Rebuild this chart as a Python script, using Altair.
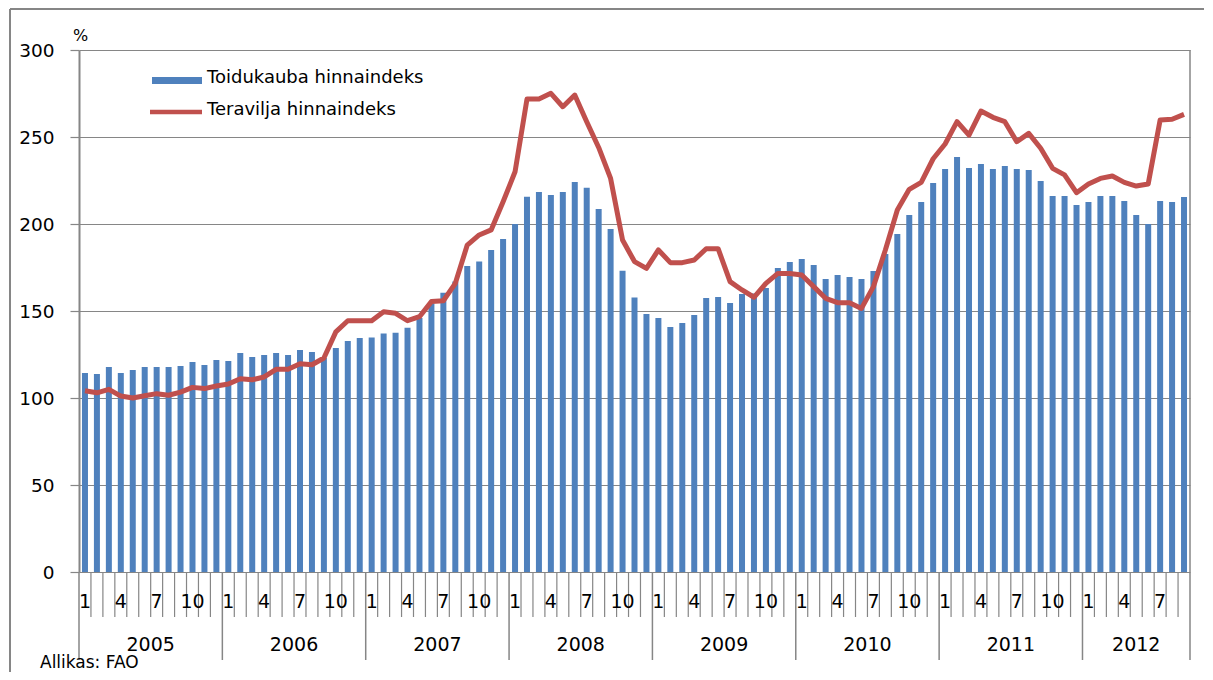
import altair as alt
import pandas as pd

# ---- data ----
aastad = ["2005", "2006", "2007", "2008", "2009", "2010", "2011", "2012"]
kuude_arv = [12, 12, 12, 12, 12, 12, 12, 9]
kuu_sildid = [1, 4, 7, 10]

toidukauba = [
    114.4, 113.8, 117.8, 114.4, 116.1, 117.8, 117.8, 117.8, 118.4, 120.7, 119.0, 121.8,
    121.3, 125.9, 123.6, 124.7, 125.9, 124.7, 127.6, 126.4, 123.0, 128.7, 132.8, 134.5,
    134.7, 137.0, 137.5, 140.4, 146.0, 154.4, 160.5, 166.9, 175.9, 178.4, 185.1, 191.4,
    200.0, 215.7, 218.4, 216.7, 218.4, 224.1, 220.9, 208.6, 197.1, 173.2, 157.7, 148.3,
    146.0, 140.8, 143.1, 147.7, 157.5, 158.0, 154.6, 159.8, 160.0, 163.2, 174.7, 178.2,
    179.9, 176.4, 168.4, 170.7, 169.5, 168.4, 173.0, 182.8, 194.3, 205.2, 212.6, 223.6,
    231.6, 238.5, 232.2, 234.5, 231.6, 233.3, 231.6, 231.0, 224.7, 216.1, 216.1, 210.9,
    212.6, 216.1, 216.1, 213.2, 205.2, 200.0, 213.2, 212.6, 215.5,
]

teravilja = [
    104.2, 103.0, 105.0, 101.1, 100.0, 101.3, 102.5, 101.6, 103.4, 106.1, 105.4, 106.9,
    108.0, 111.1, 110.5, 112.1, 116.5, 116.5, 119.7, 119.1, 123.0, 138.0, 144.4, 144.4,
    144.4, 149.6, 148.7, 144.4, 146.7, 155.4, 155.9, 165.9, 187.9, 193.7, 196.6, 212.8,
    230.0, 271.8, 271.8, 275.1, 267.4, 274.1, 258.8, 244.0, 226.2, 190.8, 178.4, 174.5,
    185.1, 177.8, 177.8, 179.3, 185.8, 185.8, 166.9, 162.1, 157.9, 165.9, 171.6, 171.6,
    170.7, 164.0, 157.3, 154.8, 154.8, 151.5, 164.0, 185.1, 208.0, 219.9, 223.9, 237.5,
    246.0, 258.8, 251.1, 264.9, 261.3, 258.8, 247.3, 252.1, 243.5, 232.0, 228.2, 218.0,
    223.0, 226.2, 227.6, 223.9, 221.8, 223.0, 259.8, 260.2, 263.0,
]

seeria_nimed = ["Toidukauba hinnaindeks", "Teravilja hinnaindeks"]
y_vaartused = [0, 50, 100, 150, 200, 250, 300]
allikas = "Allikas: FAO"
yhik = "%"

# ---- tables ----
rows = []
for yr, n in zip(aastad, kuude_arv):
    for m in range(1, n + 1):
        rows.append({"year": yr, "month": m})
df = pd.DataFrame(rows)
df["i"] = range(len(df))
df["food"] = toidukauba
df["cereal"] = teravilja
df["mlabel"] = [str(m) if m in kuu_sildid else "" for m in df["month"]]
N = len(df)

starts = []
s = 0
for n in kuude_arv:
    starts.append(s)
    s += n
year_bounds = set(starts) | {N}
bounds = pd.DataFrame({"k": list(range(N + 1))})
bounds["isyear"] = [k in year_bounds for k in bounds["k"]]
bounds["islast"] = bounds["k"] == N

years_df = pd.DataFrame({"year": aastad, "start": starts, "n": kuude_arv})

one = pd.DataFrame({"a": [0]})
leg_df = pd.DataFrame({"name": seeria_nimed, "row": [0, 1]})

FONT = "DejaVu Sans"
GREY = "#868686"
W, H = 1111, 522

xs = alt.Scale(domain=[0, N], nice=False, zero=False, padding=0)
ys = alt.Scale(domain=[0, 300], nice=False, padding=0)

base = alt.Chart(df).transform_calculate(t="datum.i + 0.5")

bars = base.mark_bar(width=6, color="#4F81BD").encode(
    x=alt.X("t:Q", scale=xs, axis=None),
    y=alt.Y(
        "food:Q",
        scale=ys,
        axis=alt.Axis(
            values=y_vaartused,
            title=None,
            grid=True,
            gridColor=GREY,
            gridWidth=1.2,
            domainColor=GREY,
            domainWidth=2,
            tickColor=GREY,
            tickSize=9,
            tickWidth=1.2,
            labelFont=FONT,
            labelFontSize=18.5,
            labelColor="#000000",
            labelPadding=16,
        ),
    ),
)

line = base.mark_line(color="#C0504D", strokeWidth=5, strokeJoin="round").encode(
    x=alt.X("t:Q", scale=xs),
    y=alt.Y("cereal:Q", scale=ys),
)

month_ticks = (
    alt.Chart(bounds)
    .transform_filter("!datum.isyear")
    .mark_rule(color=GREY, strokeWidth=1.2)
    .encode(x=alt.X("k:Q", scale=xs), y=alt.value(H), y2=alt.value(H + 45))
)
year_ticks = (
    alt.Chart(bounds)
    .transform_filter("datum.isyear && !datum.islast")
    .mark_rule(color=GREY, strokeWidth=1.5)
    .encode(x=alt.X("k:Q", scale=xs), y=alt.value(H), y2=alt.value(H + 88))
)
right_border = (
    alt.Chart(bounds)
    .transform_filter("datum.islast")
    .mark_rule(color=GREY, strokeWidth=1.5)
    .encode(x=alt.X("k:Q", scale=xs), y=alt.value(0), y2=alt.value(H + 88))
)

month_labels = base.mark_text(font=FONT, fontSize=19, baseline="middle", color="#000").encode(
    x=alt.X("t:Q", scale=xs), y=alt.value(H + 30), text="mlabel:N"
)

year_labels = (
    alt.Chart(years_df)
    .transform_calculate(c="datum.start + datum.n / 2")
    .mark_text(font=FONT, fontSize=19, baseline="middle", color="#000")
    .encode(x=alt.X("c:Q", scale=xs), y=alt.value(H + 73), text="year:N")
)

leg_rect = (
    alt.Chart(leg_df)
    .transform_filter("datum.row == 0")
    .mark_rect(color="#4F81BD")
    .encode(x=alt.value(73), x2=alt.value(123), y=alt.value(27), y2=alt.value(34))
)
leg_line = (
    alt.Chart(leg_df)
    .transform_filter("datum.row == 1")
    .mark_rule(color="#C0504D", strokeWidth=4.5)
    .encode(x=alt.value(71), x2=alt.value(123), y=alt.value(62))
)
leg_text1 = (
    alt.Chart(leg_df)
    .transform_filter("datum.row == 0")
    .mark_text(font=FONT, fontSize=18, align="left", baseline="middle", color="#000")
    .encode(x=alt.value(128), y=alt.value(28), text="name:N")
)
leg_text2 = (
    alt.Chart(leg_df)
    .transform_filter("datum.row == 1")
    .mark_text(font=FONT, fontSize=18, align="left", baseline="middle", color="#000")
    .encode(x=alt.value(128), y=alt.value(60), text="name:N")
)

pct = alt.Chart(one).mark_text(
    font=FONT, fontSize=16, align="left", baseline="middle", color="#000", text=yhik
).encode(x=alt.value(-6), y=alt.value(-14))

source = alt.Chart(one).mark_text(
    font=FONT, fontSize=17, align="left", baseline="bottom", color="#000", text=allikas
).encode(x=alt.value(-39), y=alt.value(H + 100))

frame_left = alt.Chart(one).mark_rule(color=GREY, strokeWidth=2).encode(
    x=alt.value(-69), y=alt.value(-41), y2=alt.value(H + 110)
)
frame_top = alt.Chart(one).mark_rule(color=GREY, strokeWidth=2).encode(
    x=alt.value(-69), x2=alt.value(W + 30), y=alt.value(-41)
)

chart = (
    alt.layer(
        frame_left, frame_top,
        bars, line,
        month_ticks, year_ticks, right_border,
        month_labels, year_labels,
        leg_rect, leg_line, leg_text1, leg_text2,
        pct, source,
    )
    .properties(
        width=W,
        height=H,
        autosize=alt.AutoSizeParams(type="none"),
        padding={"left": 71, "top": 42, "right": 14, "bottom": 100},
        background="white",
    )
    .configure_view(stroke=None)
)

chart.save("out.html", embed_options={"renderer": "svg", "actions": False})
